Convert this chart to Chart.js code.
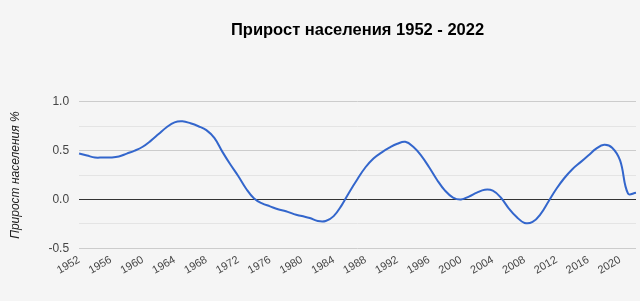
<!DOCTYPE html>
<html>
<head>
<meta charset="utf-8">
<script src="https://cdn.jsdelivr.net/npm/chart.js@4"></script>
<style>
  html, body { margin: 0; padding: 0; background: #f5f5f5; }
  #wrap { width: 640px; height: 301px; }
</style>
</head>
<body>
<div id="wrap"><canvas id="growthChart" width="640" height="301"></canvas></div>
<script>
// years on the x axis
let years = [];
for (let y = 1952; y <= 2022; y++) years.push(String(y));

// population growth, % per year
let growth = [
  0.47, 0.45, 0.43, 0.43, 0.43, 0.44, 0.47, 0.50, 0.54, 0.60,
  0.67, 0.74, 0.79, 0.80, 0.78, 0.75, 0.71, 0.63, 0.49, 0.36,
  0.24, 0.11, 0.01, -0.04, -0.07, -0.10, -0.12, -0.15, -0.17, -0.19,
  -0.22, -0.22, -0.17, -0.06, 0.08, 0.21, 0.33, 0.42, 0.48, 0.53,
  0.57, 0.59, 0.54, 0.45, 0.33, 0.20, 0.09, 0.02, 0.00, 0.03,
  0.07, 0.10, 0.09, 0.02, -0.09, -0.18, -0.24, -0.23, -0.15, -0.02,
  0.11, 0.22, 0.31, 0.38, 0.45, 0.52, 0.56, 0.53, 0.40, 0.06,
  0.07
];

// which year labels get shown under the axis
let shownYears = ["1952","1956","1960","1964","1968","1972","1976","1980","1984",
  "1988","1992","1996","2000","2004","2008","2012","2016","2020"];

// paint the light grey background
const bgPlugin = {
  id: "bg",
  beforeDraw(chart) {
    const c = chart.ctx;
    c.save();
    c.fillStyle = "#f5f5f5";
    c.fillRect(0, 0, chart.width, chart.height);
    c.restore();
  }
};

let ctx = document.getElementById("growthChart").getContext("2d");
new Chart(ctx, {
  type: "line",
  data: {
    labels: years,
    datasets: [{
      data: growth,
      borderColor: "#3366cc",
      borderWidth: 2,
      pointRadius: 0,
      tension: 0.4,
      fill: false
    }]
  },
  options: {
    responsive: false,
    animation: false,
    layout: { padding: { left: 4, right: 4, bottom: 27 } },
    plugins: {
      legend: { display: false },
      tooltip: { enabled: false },
      title: {
        display: true,
        fullSize: false,
        text: "Прирост населения 1952 - 2022",
        color: "#000",
        font: { family: "Liberation Sans, Arial", size: 16.5, weight: "bold" },
        padding: { top: 21, bottom: 61 }
      }
    },
    scales: {
      x: {
        offset: false,
        grid: { display: false },
        border: { display: false },
        ticks: {
          autoSkip: false,
          minRotation: 30,
          maxRotation: 30,
          color: "#444",
          font: { family: "Liberation Sans, Arial", size: 11 },
          padding: -3,
          callback: function (val, i) {
            let lab = years[i];
            return shownYears.includes(lab) ? lab : "";
          }
        }
      },
      y: {
        min: -0.5,
        max: 1.0,
        border: { display: false },
        grid: {
          drawTicks: false,
          lineWidth: 1,
          color: function (c) {
            let v = c.tick.value;
            if (Math.abs(v) < 1e-9) return "#333";
            if (Math.abs(v * 2 - Math.round(v * 2)) < 1e-9) return "#cccccc";
            return "#e4e4e4";
          }
        },
        ticks: {
          stepSize: 0.25,
          padding: 10,
          color: "#444",
          font: { family: "Liberation Sans, Arial", size: 12 },
          callback: function (v) {
            if (Math.abs(v * 2 - Math.round(v * 2)) < 1e-9) return v.toFixed(1);
            return "";
          }
        },
        title: {
          display: true,
          text: "Прирост населения %",
          color: "#222",
          font: { family: "Liberation Sans, Arial", size: 12, style: "italic" },
          padding: { bottom: 16 }
        }
      }
    }
  },
  plugins: [bgPlugin]
});
</script>
</body>
</html>
